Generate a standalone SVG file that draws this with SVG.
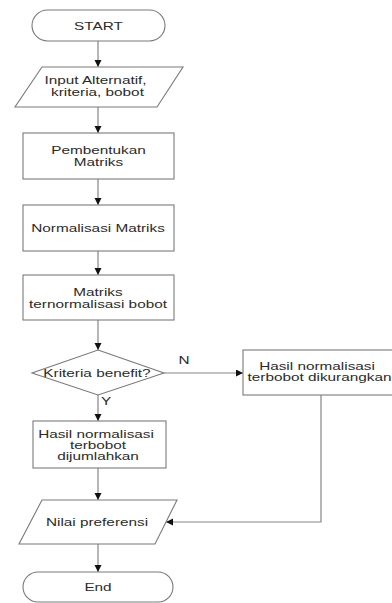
<svg xmlns="http://www.w3.org/2000/svg" width="392" height="603" viewBox="0 0 392 603">
  <style>
    .shape { fill: #ffffff; stroke: #7a7a7a; stroke-width: 1.1; }
    .edge { fill: none; stroke: #858585; stroke-width: 1.2; }
    .lbl { font-family: "Liberation Sans", Arial, sans-serif; font-size: 10.5px; fill: #2b2b2b; text-anchor: middle; }
  </style>
  <defs>
    <marker id="arrow" markerUnits="userSpaceOnUse" markerWidth="8" markerHeight="8" refX="7" refY="3.5" orient="auto">
      <path d="M0,0 L7,3.5 L0,7 z" fill="#111111"/>
    </marker>
  </defs>
  <rect width="392" height="603" fill="#ffffff"/>

  <!-- connectors -->
  <g id="connectors">
    <line class="edge" x1="98" y1="41" x2="98" y2="67" marker-end="url(#arrow)"/>
    <line class="edge" x1="98" y1="107" x2="98" y2="133" marker-end="url(#arrow)"/>
    <line class="edge" x1="98" y1="179" x2="98" y2="205" marker-end="url(#arrow)"/>
    <line class="edge" x1="98" y1="251" x2="98" y2="275" marker-end="url(#arrow)"/>
    <line class="edge" x1="98" y1="320" x2="98" y2="350" marker-end="url(#arrow)"/>
    <line class="edge" x1="98" y1="395" x2="98" y2="421" marker-end="url(#arrow)"/>
    <line class="edge" x1="98" y1="468" x2="98" y2="500" marker-end="url(#arrow)"/>
    <line class="edge" x1="98" y1="544" x2="98" y2="572" marker-end="url(#arrow)"/>
    <line class="edge" x1="164" y1="373" x2="243" y2="373" marker-end="url(#arrow)"/>
    <polyline class="edge" points="321,395 321,522 166,522" marker-end="url(#arrow)"/>
    <text class="lbl" transform="translate(184,363.5) scale(1.46,1)">N</text>
    <text class="lbl" transform="translate(106,405) scale(1.46,1)">Y</text>
  </g>

  <g id="start">
    <rect class="shape" x="32" y="10" width="133" height="31" rx="15.5" ry="15.5"/>
    <text class="lbl" transform="translate(98.5,29.5) scale(1.46,1)">START</text>
  </g>

  <g id="input">
    <polygon class="shape" points="42,67 183,67 157,107 15,107"/>
    <text class="lbl" transform="translate(95.5,84) scale(1.46,1)">Input Alternatif,</text>
    <text class="lbl" transform="translate(97.5,96) scale(1.46,1)">kriteria, bobot</text>
  </g>

  <g id="pembentukan">
    <rect class="shape" x="23" y="133" width="151" height="46"/>
    <text class="lbl" transform="translate(98.5,153.5) scale(1.46,1)">Pembentukan</text>
    <text class="lbl" transform="translate(98.5,165.5) scale(1.46,1)">Matriks</text>
  </g>

  <g id="normalisasi">
    <rect class="shape" x="23" y="205" width="151" height="46"/>
    <text class="lbl" transform="translate(98,232) scale(1.46,1)">Normalisasi Matriks</text>
  </g>

  <g id="terbobot">
    <rect class="shape" x="23" y="275" width="151" height="45"/>
    <text class="lbl" transform="translate(98,296) scale(1.46,1)">Matriks</text>
    <text class="lbl" transform="translate(98,308) scale(1.46,1)">ternormalisasi bobot</text>
  </g>

  <g id="keputusan">
    <polygon class="shape" points="98,350 164,373 98,395 32,373"/>
    <text class="lbl" transform="translate(97,377) scale(1.46,1)">Kriteria benefit?</text>
  </g>

  <g id="dijumlahkan">
    <rect class="shape" x="33" y="421" width="133" height="47"/>
    <text class="lbl" transform="translate(96,437.5) scale(1.46,1)">Hasil normalisasi</text>
    <text class="lbl" transform="translate(98,448.5) scale(1.46,1)">terbobot</text>
    <text class="lbl" transform="translate(98,459.5) scale(1.46,1)">dijumlahkan</text>
  </g>

  <g id="dikurangkan">
    <rect class="shape" x="243" y="350" width="156" height="45"/>
    <text class="lbl" transform="translate(317,369.5) scale(1.46,1)">Hasil normalisasi</text>
    <text class="lbl" transform="translate(319.5,381) scale(1.46,1)">terbobot dikurangkan</text>
  </g>

  <g id="preferensi">
    <polygon class="shape" points="42,500 177,500 155,544 19,544"/>
    <text class="lbl" transform="translate(97,526) scale(1.46,1)">Nilai preferensi</text>
  </g>

  <g id="end">
    <rect class="shape" x="23" y="572" width="150" height="30" rx="15" ry="15"/>
    <text class="lbl" transform="translate(98,591) scale(1.46,1)">End</text>
  </g>
</svg>
